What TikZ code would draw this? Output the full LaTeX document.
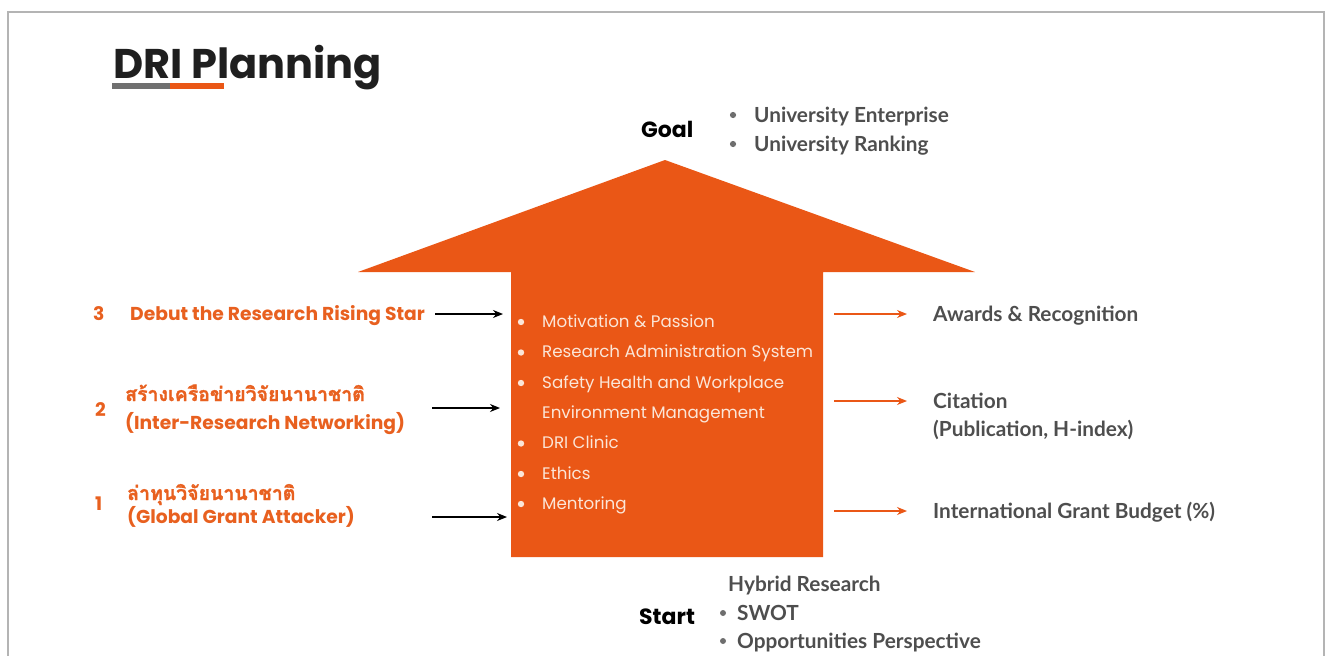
\documentclass[tikz,border=0pt]{standalone}
\usepackage{fontspec}
\setmainfont{Poppins}
\newfontfamily\pop{Poppins}
\newfontfamily\lato{Lato}
\newfontfamily\thaifont[Script=Thai, BoldFeatures={FakeBold=1.5}]{Loma}
\usetikzlibrary{arrows.meta}
\definecolor{dorange}{HTML}{EA5716}
\definecolor{torange}{HTML}{E8601F}
\definecolor{framegray}{HTML}{B4B4B4}
\definecolor{txtgray}{HTML}{4E4E4E}
\definecolor{dotgray}{HTML}{6E6E6E}
\definecolor{ulgray}{HTML}{707070}
\definecolor{cream}{HTML}{FBE6D8}
\tikzset{
  txt/.style={inner sep=0pt, anchor=base west},
  righttxt/.style={txt, font=\lato\bfseries\fontsize{20.8}{24}\selectfont, text=txtgray},
  leftlab/.style={txt, font=\pop\bfseries\fontsize{18.7}{22}\selectfont, text=torange},
  thailab/.style={txt, font=\thaifont\bfseries\fontsize{19.5}{22}\selectfont, text=torange},
  inner/.style={txt, font=\pop\fontsize{16.7}{20}\selectfont, text=cream},
  heading/.style={txt, font=\pop\bfseries\fontsize{22}{26}\selectfont, text=black},
  inarrow/.style={-{Stealth[length=10pt,width=8pt]}, line width=1.2pt, black},
  outarrow/.style={-{Stealth[length=10pt,width=8pt]}, line width=1.2pt, dorange},
}
\begin{document}
\begin{tikzpicture}[x=1pt,y=-1pt]
\useasboundingbox (0,0) rectangle (1331,656);
% frame
\draw[framegray, line width=2pt] (8,657) -- (8,12) -- (1324,12) -- (1324,657);
% title
\node[txt, font=\pop\bfseries\fontsize{41.5}{48}\selectfont, text=black!88] (title) at (113,78) {DRI Planning};
\draw[ulgray, line width=6pt] (112,86) -- (170,86);
\draw[dorange, line width=6pt] (170,86) -- (224,86);
% big arrow
\fill[dorange] (665,160) -- (975,272) -- (823,272) -- (823,557) -- (511,557) -- (511,272) -- (358,272) -- cycle;
% goal
\node[heading] (goal) at (641,137) {Goal};
\fill[dotgray] (733,115) circle (3.1pt);
\fill[dotgray] (733,144) circle (3.1pt);
\node[righttxt] (g1) at (754,122) {University Enterprise};
\node[righttxt] (g2) at (754,151) {University Ranking};
% left labels
\node[leftlab] (n3) at (93,320) {3};
\node[leftlab] (l3) at (130,320) {Debut the Research Rising Star};
\node[leftlab] (n2) at (95,416) {2};
\node[thailab] (l2a) at (125,401) {สร้างเครือข่ายวิจัยนานาชาติ};
\node[leftlab] (l2b) at (125,429) {(Inter-Research Networking)};
\node[leftlab] (n1) at (95,510) {1};
\node[thailab] (l1a) at (127,500) {ล่าทุนวิจัยนานาชาติ};
\node[leftlab] (l1b) at (127,523) {(Global Grant Attacker)};
% left arrows
\coordinate (a3s) at (435,314); \coordinate (a3e) at (503,314);
\coordinate (a2s) at (432,408); \coordinate (a2e) at (500,408);
\coordinate (a1s) at (432,517); \coordinate (a1e) at (507,517);
\draw[inarrow] (a3s) -- (a3e);
\draw[inarrow] (a2s) -- (a2e);
\draw[inarrow] (a1s) -- (a1e);
% inner list
\foreach \yy in {322,352.5,383,443.5,474,504} \fill[cream] (521,\yy) circle (3.2pt);
\node[inner] (i1) at (542,327) {Motivation \& Passion};
\node[inner] (i2) at (542,357.5) {Research Administration System};
\node[inner] (i3) at (542,388) {Safety Health and Workplace};
\node[inner] (i4) at (542,418) {Environment Management};
\node[inner] (i5) at (542,448.5) {DRI Clinic};
\node[inner] (i6) at (542,479) {Ethics};
\node[inner] (i7) at (542,509) {Mentoring};
% right arrows
\coordinate (b1s) at (834,314); \coordinate (b1e) at (907,314);
\coordinate (b2s) at (834,401); \coordinate (b2e) at (907,401);
\coordinate (b3s) at (834,511); \coordinate (b3e) at (907,511);
\draw[outarrow] (b1s) -- (b1e);
\draw[outarrow] (b2s) -- (b2e);
\draw[outarrow] (b3s) -- (b3e);
\node[righttxt] (r1) at (933,321) {Awards \& Recognition};
\node[righttxt] (r2a) at (933,408) {Citation};
\node[righttxt] (r2b) at (933,436) {(Publication, H-index)};
\node[righttxt] (r3) at (933,518) {International Grant Budget (\%)};
% start
\node[righttxt] (s0) at (728,591) {Hybrid Research};
\node[heading] (start) at (639,624) {Start};
\fill[dotgray] (723,613) circle (3pt);
\fill[dotgray] (723,641) circle (3pt);
\node[righttxt] (s1) at (737,620) {SWOT};
\node[righttxt] (s2) at (737,648) {Opportunities Perspective};
\end{tikzpicture}
\end{document}
